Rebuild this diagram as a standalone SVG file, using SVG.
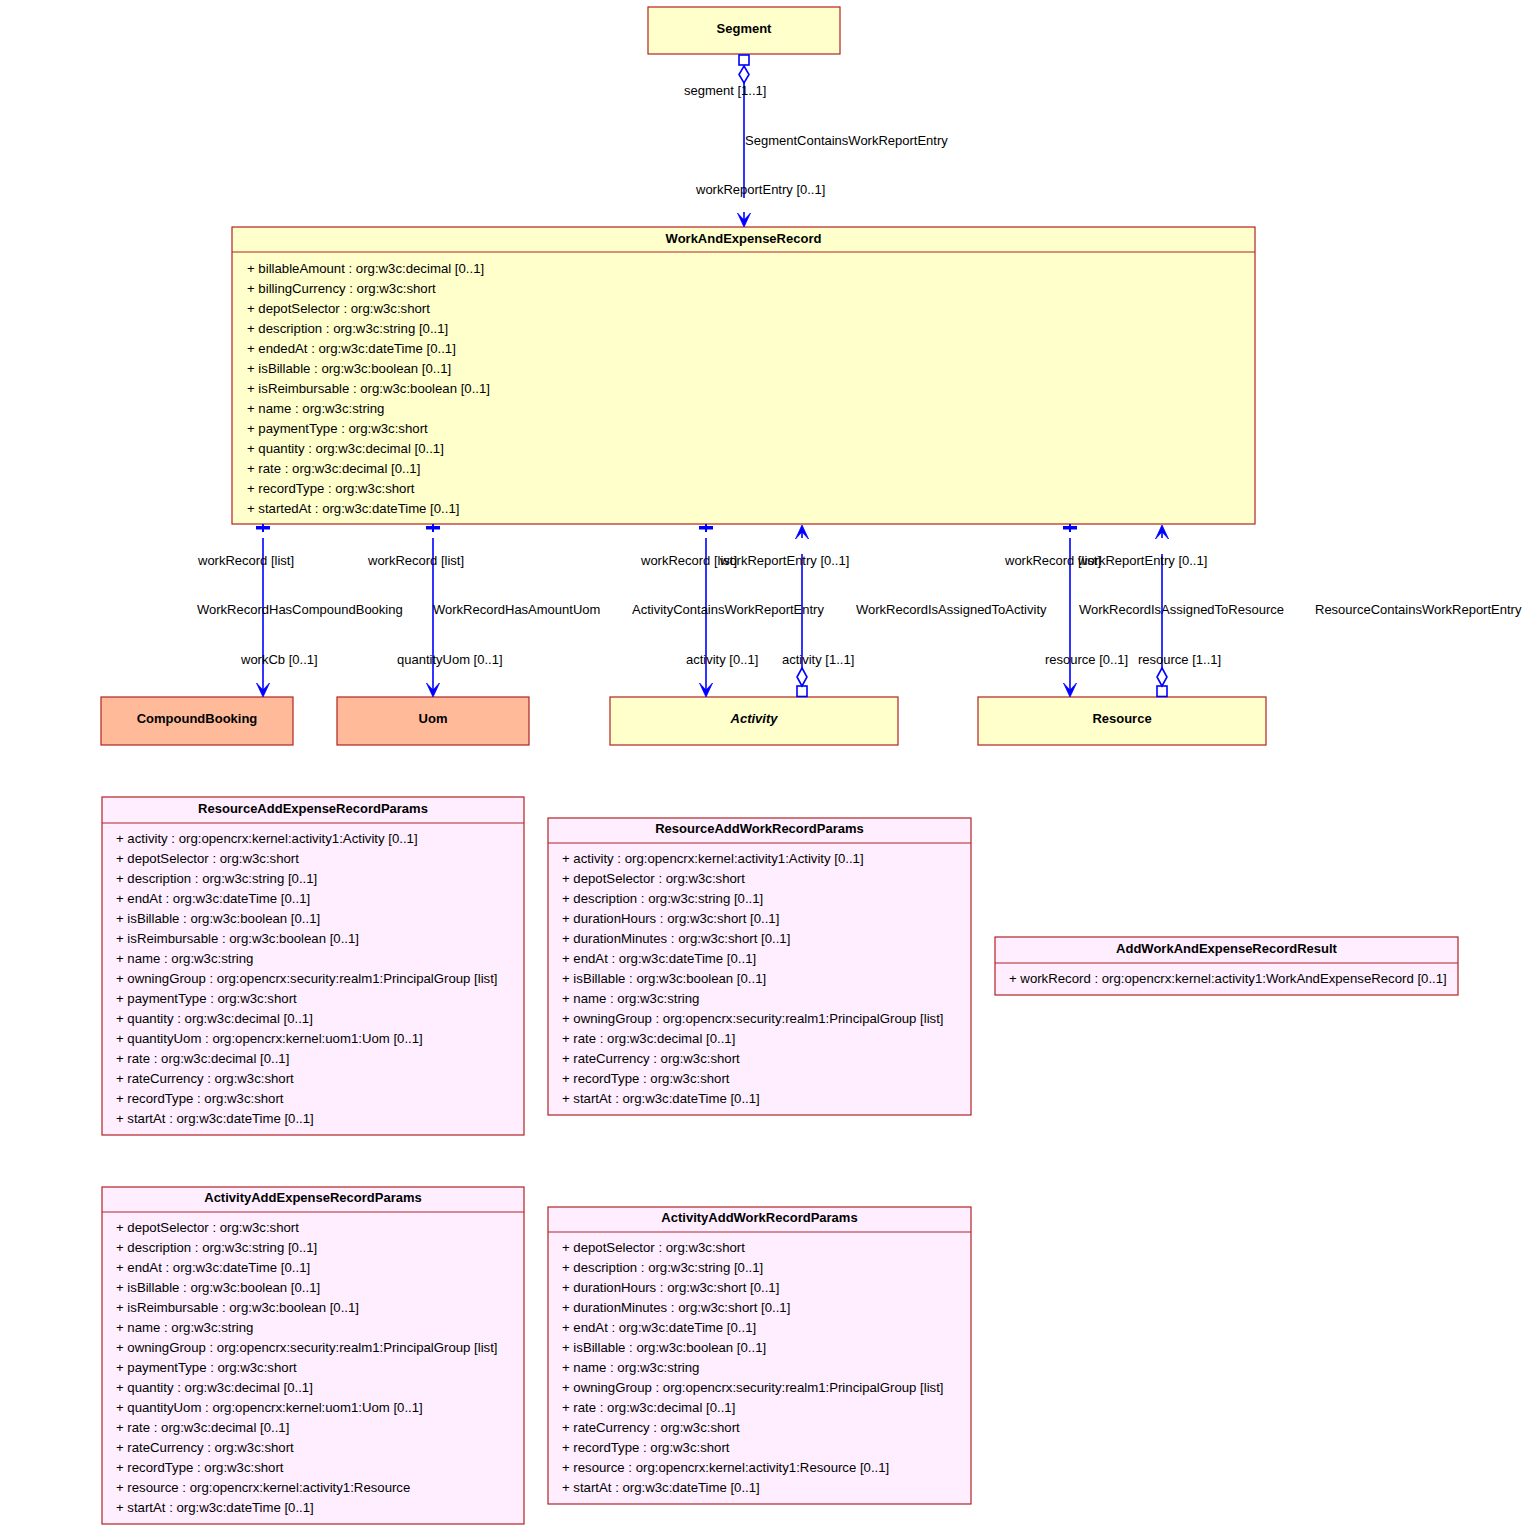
<svg xmlns="http://www.w3.org/2000/svg" width="1527" height="1531" viewBox="0 0 1527 1531">
<style>
text{font-family:"Liberation Sans",Arial,sans-serif;fill:#000}
.t{font-size:13px;font-weight:bold;text-anchor:middle}
.a{font-size:13.2px}
.l{font-size:13px}
.y{fill:#FFFFCC;stroke:#B22222;stroke-width:1.2}
.p{fill:#FFEEFF;stroke:#B22222;stroke-width:1.2}
.o{fill:#FFBB99;stroke:#B22222;stroke-width:1.2}
.sep{stroke:#B22222;stroke-width:1.2}
.c{stroke:#0000FF;stroke-width:1.6;fill:none}
.cf{stroke:#0000FF;stroke-width:1.6;fill:#fff}
.bar{fill:#0000FF}
.ah{fill:#0000FF;stroke:#0000FF;stroke-width:0.8;stroke-linejoin:miter}
</style>
<rect width="1527" height="1531" fill="#fff"/>

<g id="Segment">
<rect class="y" x="648" y="7" width="192" height="47"/>
<text class="t" x="744" y="33">Segment</text>
</g>

<g id="WorkAndExpenseRecord">
<rect class="y" x="232" y="227" width="1023" height="297"/>
<line class="sep" x1="232" y1="252" x2="1255" y2="252"/>
<text class="t" x="743.5" y="242.5">WorkAndExpenseRecord</text>
<text class="a" x="247" y="272.5">
<tspan x="247">+ billableAmount : org:w3c:decimal [0..1]</tspan>
<tspan x="247" dy="20">+ billingCurrency : org:w3c:short</tspan>
<tspan x="247" dy="20">+ depotSelector : org:w3c:short</tspan>
<tspan x="247" dy="20">+ description : org:w3c:string [0..1]</tspan>
<tspan x="247" dy="20">+ endedAt : org:w3c:dateTime [0..1]</tspan>
<tspan x="247" dy="20">+ isBillable : org:w3c:boolean [0..1]</tspan>
<tspan x="247" dy="20">+ isReimbursable : org:w3c:boolean [0..1]</tspan>
<tspan x="247" dy="20">+ name : org:w3c:string</tspan>
<tspan x="247" dy="20">+ paymentType : org:w3c:short</tspan>
<tspan x="247" dy="20">+ quantity : org:w3c:decimal [0..1]</tspan>
<tspan x="247" dy="20">+ rate : org:w3c:decimal [0..1]</tspan>
<tspan x="247" dy="20">+ recordType : org:w3c:short</tspan>
<tspan x="247" dy="20">+ startedAt : org:w3c:dateTime [0..1]</tspan>
</text>
</g>

<g id="CompoundBooking">
<rect class="o" x="101" y="697" width="192" height="48"/>
<text class="t" x="197" y="723">CompoundBooking</text>
</g>
<g id="Uom">
<rect class="o" x="337" y="697" width="192" height="48"/>
<text class="t" x="433" y="723">Uom</text>
</g>
<g id="Activity">
<rect class="y" x="610" y="697" width="288" height="48"/>
<text class="t" x="754" y="723" font-style="italic">Activity</text>
</g>
<g id="Resource">
<rect class="y" x="978" y="697" width="288" height="48"/>
<text class="t" x="1122" y="723">Resource</text>
</g>

<g id="ResourceAddExpenseRecordParams">
<rect class="p" x="102" y="797" width="422" height="338"/>
<line class="sep" x1="102" y1="823" x2="524" y2="823"/>
<text class="t" x="313" y="813">ResourceAddExpenseRecordParams</text>
<text class="a" x="116" y="843">
<tspan x="116">+ activity : org:opencrx:kernel:activity1:Activity [0..1]</tspan>
<tspan x="116" dy="20">+ depotSelector : org:w3c:short</tspan>
<tspan x="116" dy="20">+ description : org:w3c:string [0..1]</tspan>
<tspan x="116" dy="20">+ endAt : org:w3c:dateTime [0..1]</tspan>
<tspan x="116" dy="20">+ isBillable : org:w3c:boolean [0..1]</tspan>
<tspan x="116" dy="20">+ isReimbursable : org:w3c:boolean [0..1]</tspan>
<tspan x="116" dy="20">+ name : org:w3c:string</tspan>
<tspan x="116" dy="20">+ owningGroup : org:opencrx:security:realm1:PrincipalGroup [list]</tspan>
<tspan x="116" dy="20">+ paymentType : org:w3c:short</tspan>
<tspan x="116" dy="20">+ quantity : org:w3c:decimal [0..1]</tspan>
<tspan x="116" dy="20">+ quantityUom : org:opencrx:kernel:uom1:Uom [0..1]</tspan>
<tspan x="116" dy="20">+ rate : org:w3c:decimal [0..1]</tspan>
<tspan x="116" dy="20">+ rateCurrency : org:w3c:short</tspan>
<tspan x="116" dy="20">+ recordType : org:w3c:short</tspan>
<tspan x="116" dy="20">+ startAt : org:w3c:dateTime [0..1]</tspan>
</text>
</g>

<g id="ResourceAddWorkRecordParams">
<rect class="p" x="548" y="818" width="423" height="297"/>
<line class="sep" x1="548" y1="843" x2="971" y2="843"/>
<text class="t" x="759.5" y="833">ResourceAddWorkRecordParams</text>
<text class="a" x="562" y="863">
<tspan x="562">+ activity : org:opencrx:kernel:activity1:Activity [0..1]</tspan>
<tspan x="562" dy="20">+ depotSelector : org:w3c:short</tspan>
<tspan x="562" dy="20">+ description : org:w3c:string [0..1]</tspan>
<tspan x="562" dy="20">+ durationHours : org:w3c:short [0..1]</tspan>
<tspan x="562" dy="20">+ durationMinutes : org:w3c:short [0..1]</tspan>
<tspan x="562" dy="20">+ endAt : org:w3c:dateTime [0..1]</tspan>
<tspan x="562" dy="20">+ isBillable : org:w3c:boolean [0..1]</tspan>
<tspan x="562" dy="20">+ name : org:w3c:string</tspan>
<tspan x="562" dy="20">+ owningGroup : org:opencrx:security:realm1:PrincipalGroup [list]</tspan>
<tspan x="562" dy="20">+ rate : org:w3c:decimal [0..1]</tspan>
<tspan x="562" dy="20">+ rateCurrency : org:w3c:short</tspan>
<tspan x="562" dy="20">+ recordType : org:w3c:short</tspan>
<tspan x="562" dy="20">+ startAt : org:w3c:dateTime [0..1]</tspan>
</text>
</g>

<g id="AddWorkAndExpenseRecordResult">
<rect class="p" x="995" y="937" width="463" height="58"/>
<line class="sep" x1="995" y1="963" x2="1458" y2="963"/>
<text class="t" x="1226.5" y="953">AddWorkAndExpenseRecordResult</text>
<text class="a" x="1009" y="983">+ workRecord : org:opencrx:kernel:activity1:WorkAndExpenseRecord [0..1]</text>
</g>

<g id="ActivityAddExpenseRecordParams">
<rect class="p" x="102" y="1187" width="422" height="337"/>
<line class="sep" x1="102" y1="1212" x2="524" y2="1212"/>
<text class="t" x="313" y="1202">ActivityAddExpenseRecordParams</text>
<text class="a" x="116" y="1232">
<tspan x="116">+ depotSelector : org:w3c:short</tspan>
<tspan x="116" dy="20">+ description : org:w3c:string [0..1]</tspan>
<tspan x="116" dy="20">+ endAt : org:w3c:dateTime [0..1]</tspan>
<tspan x="116" dy="20">+ isBillable : org:w3c:boolean [0..1]</tspan>
<tspan x="116" dy="20">+ isReimbursable : org:w3c:boolean [0..1]</tspan>
<tspan x="116" dy="20">+ name : org:w3c:string</tspan>
<tspan x="116" dy="20">+ owningGroup : org:opencrx:security:realm1:PrincipalGroup [list]</tspan>
<tspan x="116" dy="20">+ paymentType : org:w3c:short</tspan>
<tspan x="116" dy="20">+ quantity : org:w3c:decimal [0..1]</tspan>
<tspan x="116" dy="20">+ quantityUom : org:opencrx:kernel:uom1:Uom [0..1]</tspan>
<tspan x="116" dy="20">+ rate : org:w3c:decimal [0..1]</tspan>
<tspan x="116" dy="20">+ rateCurrency : org:w3c:short</tspan>
<tspan x="116" dy="20">+ recordType : org:w3c:short</tspan>
<tspan x="116" dy="20">+ resource : org:opencrx:kernel:activity1:Resource</tspan>
<tspan x="116" dy="20">+ startAt : org:w3c:dateTime [0..1]</tspan>
</text>
</g>

<g id="ActivityAddWorkRecordParams">
<rect class="p" x="548" y="1207" width="423" height="297"/>
<line class="sep" x1="548" y1="1232" x2="971" y2="1232"/>
<text class="t" x="759.5" y="1222">ActivityAddWorkRecordParams</text>
<text class="a" x="562" y="1252">
<tspan x="562">+ depotSelector : org:w3c:short</tspan>
<tspan x="562" dy="20">+ description : org:w3c:string [0..1]</tspan>
<tspan x="562" dy="20">+ durationHours : org:w3c:short [0..1]</tspan>
<tspan x="562" dy="20">+ durationMinutes : org:w3c:short [0..1]</tspan>
<tspan x="562" dy="20">+ endAt : org:w3c:dateTime [0..1]</tspan>
<tspan x="562" dy="20">+ isBillable : org:w3c:boolean [0..1]</tspan>
<tspan x="562" dy="20">+ name : org:w3c:string</tspan>
<tspan x="562" dy="20">+ owningGroup : org:opencrx:security:realm1:PrincipalGroup [list]</tspan>
<tspan x="562" dy="20">+ rate : org:w3c:decimal [0..1]</tspan>
<tspan x="562" dy="20">+ rateCurrency : org:w3c:short</tspan>
<tspan x="562" dy="20">+ recordType : org:w3c:short</tspan>
<tspan x="562" dy="20">+ resource : org:opencrx:kernel:activity1:Resource [0..1]</tspan>
<tspan x="562" dy="20">+ startAt : org:w3c:dateTime [0..1]</tspan>
</text>
</g>

<g id="connectors">
<g id="SegmentContainsWorkReportEntry">
<rect class="cf" x="739" y="55" width="10" height="10"/>
<path class="cf" d="M744,66 L749,74.5 L744,83 L739,74.5 Z"/>
<line class="c" x1="744" y1="83" x2="744" y2="198"/>
<line class="c" x1="744" y1="212" x2="744" y2="222"/>
<polygon class="ah" points="744,227 737.5,213 744,220 750.5,213"/>
<text class="l" x="684" y="94.5">segment [1..1]</text>
<text class="l" x="745" y="144.5">SegmentContainsWorkReportEntry</text>
<text class="l" x="696" y="193.5">workReportEntry [0..1]</text>
</g>

<g id="WorkRecordHasCompoundBooking">
<rect class="bar" x="256" y="526" width="14" height="3.5"/>
<rect class="bar" x="262" y="524" width="2" height="8"/>
<line class="c" x1="263" y1="538" x2="263" y2="692"/>
<polygon class="ah" points="263,697 256.5,683 263,690 269.5,683"/>
<text class="l" x="198" y="564.5">workRecord [list]</text>
<text class="l" x="197" y="613.5">WorkRecordHasCompoundBooking</text>
<text class="l" x="241" y="663.5">workCb [0..1]</text>
</g>

<g id="WorkRecordHasAmountUom">
<rect class="bar" x="426" y="526" width="14" height="3.5"/>
<rect class="bar" x="432" y="524" width="2" height="8"/>
<line class="c" x1="433" y1="538" x2="433" y2="692"/>
<polygon class="ah" points="433,697 426.5,683 433,690 439.5,683"/>
<text class="l" x="368" y="564.5">workRecord [list]</text>
<text class="l" x="433" y="613.5">WorkRecordHasAmountUom</text>
<text class="l" x="397" y="663.5">quantityUom [0..1]</text>
</g>

<g id="WorkRecordIsAssignedToActivity">
<rect class="bar" x="699" y="526" width="14" height="3.5"/>
<rect class="bar" x="705" y="524" width="2" height="8"/>
<line class="c" x1="706" y1="538" x2="706" y2="692"/>
<polygon class="ah" points="706,697 699.5,683 706,690 712.5,683"/>
<text class="l" x="641" y="564.5">workRecord [list]</text>
<text class="l" x="856" y="613.5">WorkRecordIsAssignedToActivity</text>
<text class="l" x="686" y="663.5">activity [0..1]</text>
</g>

<g id="ActivityContainsWorkReportEntry">
<rect class="cf" x="797" y="686" width="10" height="10.5"/>
<path class="cf" d="M802,668 L807,677 L802,686 L797,677 Z"/>
<line class="c" x1="802" y1="554" x2="802" y2="668"/>
<line class="c" x1="802" y1="530" x2="802" y2="538"/>
<polygon class="ah" points="802,525 795.5,539 802,532 808.5,539"/>
<text class="l" x="720" y="564.5">workReportEntry [0..1]</text>
<text class="l" x="632" y="613.5">ActivityContainsWorkReportEntry</text>
<text class="l" x="782" y="663.5">activity [1..1]</text>
</g>

<g id="WorkRecordIsAssignedToResource">
<rect class="bar" x="1063" y="526" width="14" height="3.5"/>
<rect class="bar" x="1069" y="524" width="2" height="8"/>
<line class="c" x1="1070" y1="538" x2="1070" y2="692"/>
<polygon class="ah" points="1070,697 1063.5,683 1070,690 1076.5,683"/>
<text class="l" x="1005" y="564.5">workRecord [list]</text>
<text class="l" x="1079" y="613.5">WorkRecordIsAssignedToResource</text>
<text class="l" x="1045" y="663.5">resource [0..1]</text>
</g>

<g id="ResourceContainsWorkReportEntry">
<rect class="cf" x="1157" y="686" width="10" height="10.5"/>
<path class="cf" d="M1162,668 L1167,677 L1162,686 L1157,677 Z"/>
<line class="c" x1="1162" y1="554" x2="1162" y2="668"/>
<line class="c" x1="1162" y1="530" x2="1162" y2="538"/>
<polygon class="ah" points="1162,525 1155.5,539 1162,532 1168.5,539"/>
<text class="l" x="1078" y="564.5">workReportEntry [0..1]</text>
<text class="l" x="1315" y="613.5">ResourceContainsWorkReportEntry</text>
<text class="l" x="1138" y="663.5">resource [1..1]</text>
</g>
</g>
</svg>
